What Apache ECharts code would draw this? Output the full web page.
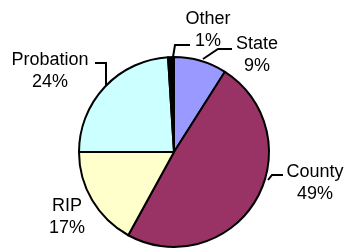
<!DOCTYPE html>
<html>
<head>
<meta charset="utf-8">
<script src="https://cdn.jsdelivr.net/npm/echarts@6/dist/echarts.min.js"></script>
<style>html,body{margin:0;padding:0;background:#fff;}#c{width:346px;height:250px;}</style>
</head>
<body>
<div id="c"></div>
<script>
var categories = ['State', 'County', 'RIP', 'Probation', 'Other'];
var values = [9, 49, 17, 24, 1];
var colors = ['#9999FF', '#993366', '#FFFFCC', '#CCFFFF', '#000000'];

// label annotation placement (label centre and leader line path)
var labelCenters = [[257, 55], [315, 183], [67, 217], [50, 71], [208, 30]];
var leaderPaths = [
  [[203, 59], [218, 49], [232, 49]],
  [[268, 180], [272, 175], [283, 175]],
  null,
  [[106, 85], [106, 63], [95, 63]],
  [[173, 57], [175, 45], [190, 45]]
];

var chart = echarts.init(document.getElementById('c'), null, {renderer: 'canvas'});
var data = categories.map(function (n, i) {
  return {
    name: n,
    value: values[i],
    itemStyle: {color: colors[i]},
    labelLine: {show: leaderPaths[i] !== null}
  };
});
chart.setOption({
  animation: false,
  backgroundColor: '#fff',
  series: [{
    type: 'pie',
    center: [174, 152],
    radius: [0, 95],
    startAngle: 90,
    clockwise: true,
    percentPrecision: 0,
    avoidLabelOverlap: false,
    data: data,
    itemStyle: {borderColor: '#000', borderWidth: 2},
    emphasis: {disabled: true},
    label: {
      show: true,
      position: 'outside',
      alignTo: 'none',
      overflow: 'none',
      formatter: '{b}\n{d}%',
      fontFamily: 'Liberation Sans, Arial, sans-serif',
      fontSize: 18,
      lineHeight: 22,
      color: '#000',
      align: 'center'
    },
    labelLine: {show: true, lineStyle: {color: '#000', width: 2}, smooth: false},
    labelLayout: function (p) {
      var i = p.dataIndex;
      var o = {x: labelCenters[i][0], y: labelCenters[i][1], align: 'center', verticalAlign: 'middle', width: 120};
      if (leaderPaths[i]) o.labelLinePoints = leaderPaths[i];
      return o;
    }
  }]
});
</script>
</body>
</html>
